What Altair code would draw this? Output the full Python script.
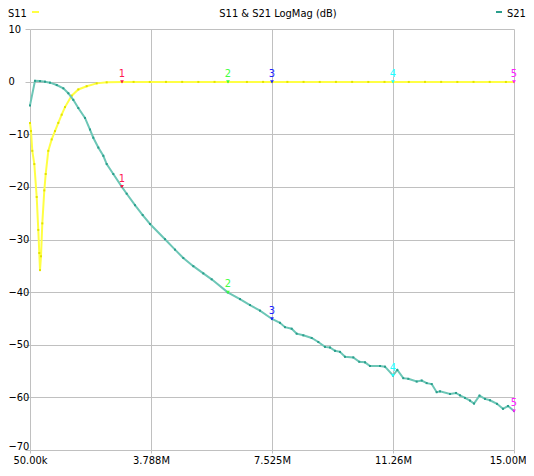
import altair as alt
import pandas as pd

FONT = "DejaVu Sans Condensed, Liberation Sans, sans-serif"

# S21 trace (MHz, dB)
freq_s21 = [0.05, 0.204, 0.359, 0.513, 0.668, 0.875, 1.079, 1.233, 1.387, 1.542, 1.749, 1.903,
            2.005, 2.160, 2.314, 2.419, 2.623, 2.882, 3.037, 3.293, 3.531, 3.757, 4.220, 4.529,
            4.785, 5.094, 5.403, 5.662, 6.157, 6.536, 6.845, 7.154, 7.525, 7.772, 7.926, 8.133,
            8.288, 8.492, 8.751, 8.955, 9.162, 9.316, 9.471, 9.625, 9.780, 10.036, 10.221, 10.397,
            10.552, 10.861, 11.015, 11.2625, 11.395, 11.580, 11.735, 11.994, 12.149, 12.303, 12.458,
            12.612, 12.714, 13.023, 13.209, 13.332, 13.486, 13.641, 13.765, 13.934, 14.104, 14.259,
            14.475, 14.660, 14.815, 15.0]
s21_db = [-4.52, 0.15, 0.10, -0.01, -0.20, -0.65, -1.27, -2.21, -3.46, -5.02, -6.90, -9.10,
          -10.66, -12.53, -14.09, -15.67, -17.55, -19.95, -21.30, -23.48, -25.36, -27.05, -29.94, -31.93,
          -33.51, -35.07, -36.44, -37.57, -40.05, -41.32, -42.45, -43.52, -45.10, -45.83, -46.66, -46.96,
          -47.90, -48.21, -48.72, -49.47, -50.41, -50.52, -51.16, -51.35, -52.29, -52.40, -53.23, -53.34,
          -54.04, -54.04, -54.17, -55.85, -54.79, -56.35, -56.48, -56.99, -56.80, -57.29, -57.47,
          -59.01, -58.86, -59.35, -59.16, -59.61, -60.10, -60.61, -61.17, -59.67, -60.29, -60.55,
          -61.23, -62.17, -61.64, -62.60]

# S11 trace (MHz, dB)
freq_s11 = [0.05, 0.081, 0.121, 0.183, 0.257, 0.306, 0.337, 0.359, 0.390, 0.430, 0.492, 0.535,
            0.615, 0.720, 0.822, 0.924, 1.029, 1.131, 1.338, 1.542, 1.801, 2.110, 2.419, 2.892,
            3.25, 3.75, 4.25, 4.75, 5.25, 5.75, 6.166, 6.75, 7.25, 7.525, 8.0, 8.5, 9.0, 9.5, 10.0,
            10.5, 11.0, 11.2625, 11.75, 12.25, 12.75, 13.25, 13.75, 14.25, 14.75, 15.0]
s11_db = [-7.84, -9.40, -13.15, -15.67, -21.92, -28.18, -32.57, -35.82, -33.19, -26.94, -20.67, -17.55,
          -13.15, -10.98, -9.40, -7.84, -6.28, -4.84, -2.68, -1.49, -0.87, -0.33, -0.14, -0.05,
          -0.05, -0.06, -0.05, -0.05, -0.06, -0.05, -0.05, -0.06, -0.05, -0.06, -0.05, -0.05, -0.06, -0.05, -0.05,
          -0.06, -0.05, -0.05, -0.06, -0.05, -0.05, -0.06, -0.05, -0.05, -0.06, -0.06]

marker_ids = ["1", "2", "3", "4", "5"]
marker_freq = [2.892, 6.166, 7.525, 11.2625, 15.0]
marker_s11 = [-0.05, -0.05, -0.06, -0.05, -0.06]
marker_s21 = [-19.95, -40.05, -45.10, -55.85, -62.60]
marker_colors = ["#ff1a50", "#40ff40", "#2020ff", "#20ffff", "#ff20ff"]

x_tick_values = [0.05, 3.7875, 7.525, 11.2625, 15.0]
x_tick_labels = ["50.00k", "3.788M", "7.525M", "11.26M", "15.00M"]
y_tick_values = [-70, -60, -50, -40, -30, -20, -10, 0, 10]

title_text = "S11 & S21 LogMag (dB)"
legend_left = "S11"
legend_right = "S21"

S11_LINE = "#ffff44"
S11_DOT = "#e2e200"
S21_LINE = "#6cc6b6"
S21_DOT = "#2a9e8c"
GRID = "#c0c0c0"

# label expression from tick lists
expr = "'" + x_tick_labels[-1] + "'"
for i in range(len(x_tick_values) - 2, -1, -1):
    mid = (x_tick_values[i] + x_tick_values[i + 1]) / 2
    expr = f"datum.value < {mid} ? '{x_tick_labels[i]}' : ({expr})"

xscale = alt.Scale(domain=[0.05, 15.0], nice=False, zero=False)
yscale = alt.Scale(domain=[-70, 10], nice=False, zero=False)
xaxis = alt.Axis(values=x_tick_values, labelExpr=expr, grid=True, gridColor=GRID, gridOpacity=1,
                 tickColor=GRID, tickSize=3, domain=False, title=None, labelFont=FONT,
                 labelFontSize=11, labelColor="#000000", labelPadding=1, labelFlush=False,
                 labelOverlap=False,
                 labelAlign={"condition": {"test": "datum.value > 14", "value": "right"},
                             "value": "center"},
                 labelOffset={"condition": {"test": "datum.value > 14", "value": 12},
                              "value": 0})
yaxis = alt.Axis(values=y_tick_values, grid=True, gridColor=GRID, gridOpacity=1,
                 tickColor=GRID, tickSize=5, domain=False, title=None, labelFont=FONT,
                 labelFontSize=11, labelColor="#000000", labelAlign="left", labelPadding=17,
                 labelFlush=False, labelOverlap=False,
                 labelOffset={"condition": {"test": "datum.value < -65", "value": -4},
                              "value": 0})

X = alt.X("f:Q", scale=xscale, axis=xaxis)
Y = alt.Y("db:Q", scale=yscale, axis=yaxis)

df11 = pd.DataFrame({"f": freq_s11, "db": s11_db})
df21 = pd.DataFrame({"f": freq_s21, "db": s21_db})
dm11 = pd.DataFrame({"f": marker_freq, "db": marker_s11, "id": marker_ids, "c": marker_colors})
dm21 = pd.DataFrame({"f": marker_freq, "db": marker_s21, "id": marker_ids, "c": marker_colors})

l11 = alt.Chart(df11).mark_line(color=S11_LINE, strokeWidth=2).encode(x=X, y=Y)
p11 = alt.Chart(df11).mark_square(color=S11_DOT, size=4, opacity=1).encode(x=X, y=Y)
l21 = alt.Chart(df21).mark_line(color=S21_LINE, strokeWidth=2).encode(x=X, y=Y)
p21 = alt.Chart(df21).mark_square(color=S21_DOT, size=4, opacity=1).encode(x=X, y=Y)

def markers(df):
    tri = alt.Chart(df).mark_point(shape="triangle-down", filled=True, size=14, opacity=1).encode(
        x=X, y=Y, color=alt.Color("c:N", scale=None))
    lab = alt.Chart(df).mark_text(font=FONT, fontSize=11, dy=-8, baseline="middle").encode(
        x=X, y=Y, text="id:N", color=alt.Color("c:N", scale=None))
    return tri + lab

one = pd.DataFrame({"k": [0]})
title = alt.Chart(one).mark_text(font=FONT, fontSize=11, color="#000000", align="center",
                                 baseline="middle").encode(
    x=alt.value(248), y=alt.value(-15), text=alt.value(title_text))
leg1 = alt.Chart(one).mark_text(font=FONT, fontSize=11, color="#000000", align="left",
                                baseline="middle").encode(
    x=alt.value(-22), y=alt.value(-15), text=alt.value(legend_left))
leg1d = alt.Chart(one).mark_rule(color=S11_LINE, strokeWidth=2).encode(
    x=alt.value(2), x2=alt.value(9), y=alt.value(-17))
leg2 = alt.Chart(one).mark_text(font=FONT, fontSize=11, color="#000000", align="left",
                                baseline="middle").encode(
    x=alt.value(477), y=alt.value(-15), text=alt.value(legend_right))
leg2d = alt.Chart(one).mark_rule(color=S21_DOT, strokeWidth=2).encode(
    x=alt.value(466), x2=alt.value(472), y=alt.value(-17))

chart = alt.layer(
    l11, p11, l21, p21, markers(dm11), markers(dm21), title, leg1, leg1d, leg2, leg2d
).properties(
    width=484, height=421,
    padding={"left": 22, "top": 21, "right": 12, "bottom": 18},
    autosize=alt.AutoSizeParams(type="none"),
    background="#ffffff",
).configure_view(stroke=None)

chart.save("out.html", embed_options={"renderer": "svg", "actions": False})
